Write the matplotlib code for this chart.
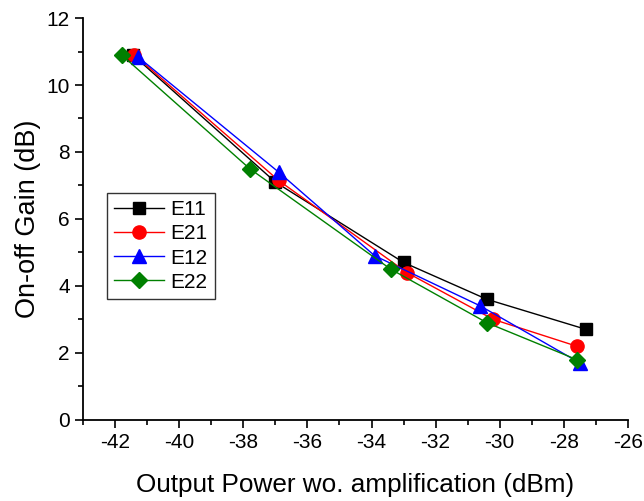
import matplotlib
matplotlib.use("Agg")
import matplotlib.pyplot as plt
from matplotlib.ticker import MultipleLocator

plt.rcParams['font.family'] = ['Liberation Sans', 'DejaVu Sans']

series_names = ["E11", "E21", "E12", "E22"]
x_E11 = [-41.45, -37.0, -33.0, -30.4, -27.3]
y_E11 = [10.9, 7.1, 4.7, 3.6, 2.7]
x_E21 = [-41.4, -36.9, -32.9, -30.2, -27.6]
y_E21 = [10.9, 7.15, 4.4, 3.0, 2.2]
x_E12 = [-41.3, -36.9, -33.9, -30.6, -27.5]
y_E12 = [10.85, 7.4, 4.9, 3.4, 1.7]
x_E22 = [-41.8, -37.8, -33.4, -30.4, -27.6]
y_E22 = [10.9, 7.5, 4.5, 2.9, 1.8]

xs = [x_E11, x_E21, x_E12, x_E22]
ys = [y_E11, y_E21, y_E12, y_E22]
colors = ["black", "red", "blue", "green"]
markers = ["s", "o", "^", "D"]
msizes = [8.5, 9.5, 10, 8]

fig = plt.figure(figsize=(6.44, 5.01), dpi=100)
ax = fig.add_axes([0.129, 0.162, 0.846, 0.802])

for x, y, c, m, ms, name in zip(xs, ys, colors, markers, msizes, series_names):
    ax.plot(x, y, color=c, marker=m, markersize=ms, linewidth=1.0, label=name,
            markeredgecolor=c, markerfacecolor=c)

ax.set_xlim(-43, -26)
ax.set_ylim(0, 12)
ax.xaxis.set_major_locator(MultipleLocator(2))
ax.xaxis.set_minor_locator(MultipleLocator(1))
ax.yaxis.set_major_locator(MultipleLocator(2))
ax.yaxis.set_minor_locator(MultipleLocator(1))
ax.spines['top'].set_visible(False)
ax.spines['right'].set_visible(False)
for s in ['left', 'bottom']:
    ax.spines[s].set_linewidth(1.3)
ax.tick_params(which='major', direction='out', length=6, width=1.2, labelsize=15)
ax.tick_params(which='minor', direction='out', length=3.5, width=1.2)
ticks = list(range(-42, -25, 2))
ax.set_xticks(ticks)
ax.set_xticklabels([str(t) for t in ticks])

ax.set_xlabel("Output Power wo. amplification (dBm)", fontsize=18.8, labelpad=15)
ax.set_ylabel("On-off Gain (dB)", fontsize=19.5, labelpad=4)

leg = ax.legend(loc='upper left', bbox_to_anchor=(0.044, 0.565), fontsize=15,
                frameon=True, fancybox=False, edgecolor='black',
                handlelength=2.4, handletextpad=0.3, labelspacing=0.25,
                borderpad=0.35, borderaxespad=0)
leg.get_frame().set_linewidth(1.0)

fig.savefig("out.png", dpi=100)
